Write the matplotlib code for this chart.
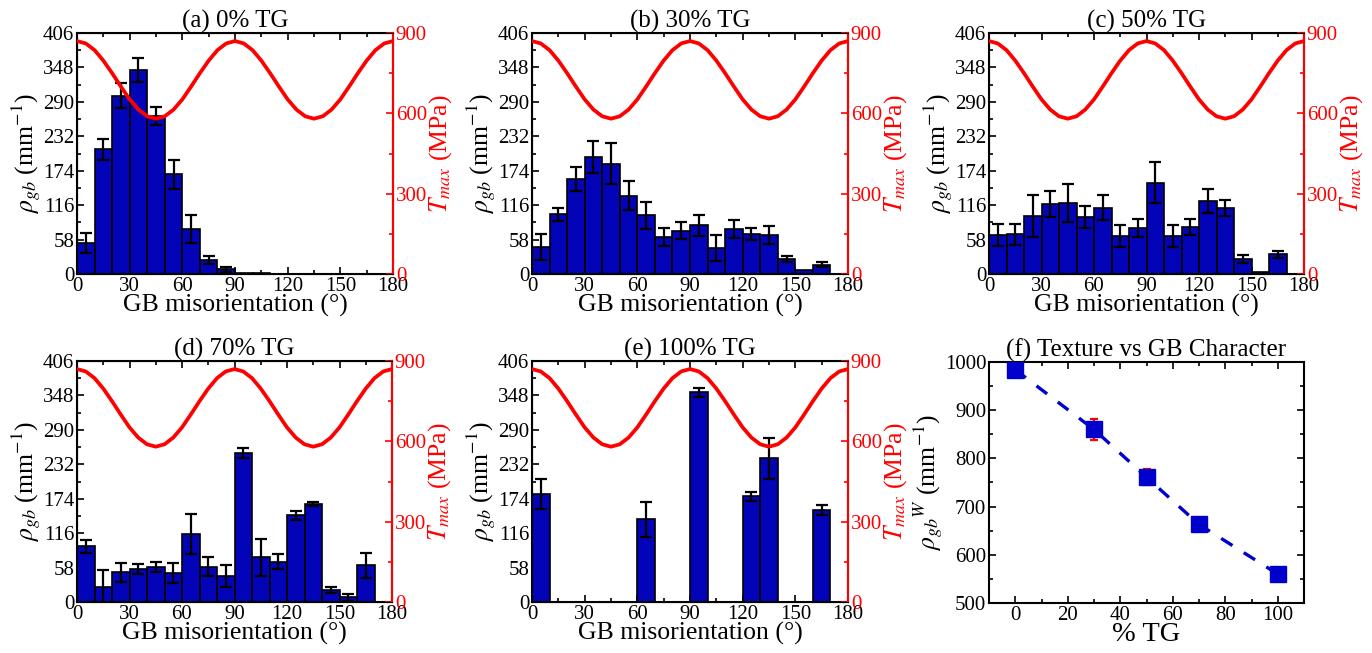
import numpy as np
import matplotlib
matplotlib.use('Agg')
import matplotlib.pyplot as plt
from matplotlib.ticker import MultipleLocator

plt.rcParams['font.family'] = ['Liberation Serif', 'DejaVu Serif']
plt.rcParams['mathtext.fontset'] = 'stix'

# bin centres of the misorientation histogram (10 deg bins)
angles = np.arange(5, 180, 10)

# rho_gb per bin and its error, one pair per texture level
rho_0 = [52, 210, 300, 344, 266, 168, 76, 24, 8, 2, 1, 0.5, 0, 0, 0, 0, 0, 0]
err_0 = [17, 18, 21, 20, 15, 24, 23, 7, 4, 0, 0, 0, 0, 0, 0, 0, 0, 0]
rho_30 = [45, 101, 160, 197, 186, 132, 99, 63, 73, 82, 44, 76, 67, 66, 25, 6, 16, 0]
err_30 = [22, 11, 20, 27, 34, 24, 23, 15, 14, 18, 22, 15, 10, 15, 5, 0, 4, 0]
rho_50 = [66, 67, 98, 118, 119, 96, 112, 64, 78, 154, 64, 79, 123, 111, 25, 3, 33, 0]
err_50 = [19, 18, 35, 22, 32, 19, 21, 19, 15, 35, 18, 14, 20, 14, 7, 0, 6, 0]
rho_70 = [94, 26, 50, 56, 59, 49, 115, 59, 44, 251, 75, 68, 146, 165, 21, 8, 62, 0]
err_70 = [11, 28, 16, 8, 9, 17, 34, 16, 19, 9, 31, 13, 8, 3, 5, 6, 21, 0]
rho_100 = [182, 0, 0, 0, 0, 0, 139, 0, 0, 353, 0, 0, 178, 242, 0, 0, 155, 0]
err_100 = [25, 0, 0, 0, 0, 0, 29, 0, 0, 8, 0, 0, 8, 35, 0, 0, 8, 0]

# T_max curve (every 5 deg)
t_angle = np.arange(0, 181, 5)
t_max = [870, 861, 836, 797, 750, 700, 652, 614, 589, 580,
         589, 614, 652, 700, 750, 797, 836, 861, 870,
         861, 836, 797, 750, 700, 652, 614, 589, 580,
         589, 614, 652, 700, 750, 797, 836, 861, 870]

# panel (f)
tg_pct = [0, 30, 50, 70, 100]
rho_w = [984, 860, 761, 663, 560]
rho_w_err = [12, 21, 17, 14, 12]

titles = ['(a) 0% TG', '(b) 30% TG', '(c) 50% TG', '(d) 70% TG', '(e) 100% TG']
rhos = [rho_0, rho_30, rho_50, rho_70, rho_100]
errs = [err_0, err_30, err_50, err_70, err_100]

W, H = 1372, 653
fig = plt.figure(figsize=(W / 100, H / 100), dpi=100)

def px_axes(l, t, r, b):
    return fig.add_axes([l / W, 1 - b / H, (r - l) / W, (b - t) / H])

boxes = [(77, 33, 393, 274), (532, 33, 848, 274), (989, 33, 1304, 274),
         (77, 361, 392, 602), (532, 361, 848, 602)]

bar_col = '#0303b8'
fs_tick = 15
fs_lab = 18.5
fs_title = 18

for i in range(5):
    ax = px_axes(*boxes[i])
    ax.bar(angles, rhos[i], width=10, color=bar_col, edgecolor='black', linewidth=1.2, zorder=2)
    e = np.array(errs[i])
    mask = e > 0
    ax.errorbar(angles[mask], np.array(rhos[i])[mask], yerr=e[mask], fmt='none',
                ecolor='black', elinewidth=1.6, capsize=4, capthick=1.6, zorder=3)
    ax.set_xlim(0, 180)
    ax.set_ylim(0, 406)
    ax.set_xticks(np.arange(0, 181, 30))
    ax.set_yticks(np.arange(0, 407, 58))
    ax.xaxis.set_minor_locator(MultipleLocator(15))
    ax.yaxis.set_minor_locator(MultipleLocator(29))
    ax.tick_params(which='both', direction='in', top=True, right=False, labelsize=fs_tick, width=1.2)
    ax.tick_params(which='major', length=5, pad=2)
    ax.tick_params(which='minor', length=3)
    ax.set_xlabel('GB misorientation (°)', fontsize=fs_lab, labelpad=-1)
    ax.set_ylabel(r'$\rho_{gb}$ (mm$^{\mathrm{-1}}$)', fontsize=fs_lab, labelpad=0)
    ax.set_title(titles[i], fontsize=fs_title, pad=1)
    for s in ax.spines.values():
        s.set_linewidth(1.5)

    ax2 = ax.twinx()
    ax2.plot(t_angle, t_max, color='red', linewidth=2.7, zorder=4)
    ax2.set_ylim(0, 900)
    ax2.set_yticks([0, 300, 600, 900])
    ax2.yaxis.set_minor_locator(MultipleLocator(150))
    ax2.tick_params(which='both', direction='in', colors='red', labelsize=fs_tick, width=1.2)
    ax2.tick_params(which='major', length=5, pad=2)
    ax2.tick_params(which='minor', length=3)
    ax2.spines['right'].set_color('red')
    ax2.spines['right'].set_linewidth(1.5)
    ax2.set_ylabel(r'$T_{max}$ (MPa)', color='red', fontsize=fs_lab, labelpad=0)

# panel (f)
axf = px_axes(989, 362, 1304, 603)
axf.plot(tg_pct, rho_w, color='#0000cc', linestyle=(0, (4, 4)), linewidth=2.4, zorder=2)
axf.errorbar(tg_pct, rho_w, yerr=rho_w_err, fmt='s', color='#0000cc', markersize=11,
             ecolor='red', elinewidth=1.6, capsize=3, capthick=1.6, zorder=3)
axf.set_xlim(-10, 110)
axf.set_ylim(500, 1000)
axf.set_xticks(np.arange(0, 101, 20))
axf.set_yticks(np.arange(500, 1001, 100))
axf.xaxis.set_minor_locator(MultipleLocator(10))
axf.yaxis.set_minor_locator(MultipleLocator(50))
axf.tick_params(which='both', direction='in', top=True, right=True, labelsize=fs_tick, width=1.2)
axf.tick_params(which='major', length=5, pad=2)
axf.tick_params(which='minor', length=3)
for s in axf.spines.values():
    s.set_linewidth(1.5)
axf.set_xlabel('% TG', fontsize=fs_lab + 2, labelpad=-2)
axf.set_ylabel(r'$\rho_{gb}{}^{W}$ (mm$^{\mathrm{-1}}$)', fontsize=fs_lab, labelpad=0)
axf.set_title('(f) Texture vs GB Character', fontsize=fs_title, pad=1)

fig.savefig('out.png', dpi=100)
